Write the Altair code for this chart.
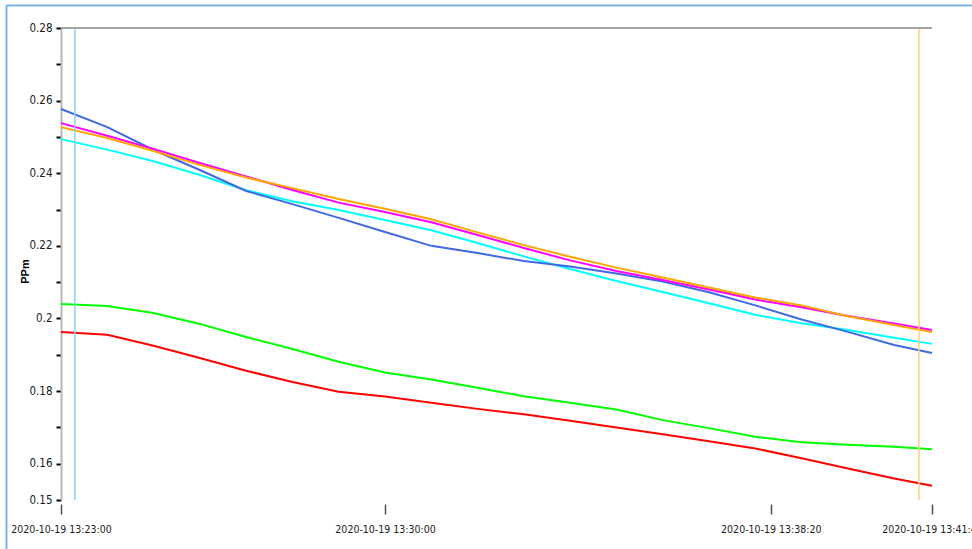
import altair as alt
import pandas as pd

# Sample times, in seconds after 2020-10-19 13:23:00 (UTC)
start = pd.Timestamp("2020-10-19 13:23:00")
offset_s = [0, 60, 120, 180, 240, 300, 360, 420, 480, 540, 600, 660, 720,
            780, 840, 900, 960, 1020, 1080, 1129]

# Concentration readings (ppm) for each channel
royal_blue = [0.2577, 0.2527, 0.2464, 0.2409, 0.2351, 0.2315, 0.2277, 0.2238, 0.2200, 0.2180,
              0.2158, 0.2143, 0.2124, 0.2102, 0.2072, 0.2036, 0.1997, 0.1963, 0.1927, 0.1905]
magenta = [0.2538, 0.2503, 0.2467, 0.2428, 0.2391, 0.2354, 0.2319, 0.2293, 0.2265, 0.2230,
           0.2194, 0.2160, 0.2131, 0.2106, 0.2080, 0.2052, 0.2031, 0.2007, 0.1986, 0.1968]
orange = [0.2527, 0.2497, 0.2461, 0.2423, 0.2388, 0.2359, 0.2329, 0.2302, 0.2273, 0.2237,
          0.2202, 0.2170, 0.2140, 0.2113, 0.2085, 0.2058, 0.2036, 0.2006, 0.1982, 0.1963]
cyan = [0.2494, 0.2465, 0.2433, 0.2395, 0.2353, 0.2323, 0.2299, 0.2271, 0.2243, 0.2208,
        0.2171, 0.2136, 0.2103, 0.2073, 0.2042, 0.2010, 0.1987, 0.1968, 0.1947, 0.1930]
green = [0.2040, 0.2034, 0.2015, 0.1985, 0.1949, 0.1916, 0.1881, 0.1851, 0.1832, 0.1809,
         0.1786, 0.1768, 0.1749, 0.1720, 0.1698, 0.1674, 0.1659, 0.1652, 0.1647, 0.1640]
red = [0.1963, 0.1955, 0.1925, 0.1891, 0.1856, 0.1825, 0.1798, 0.1785, 0.1768, 0.1751,
       0.1736, 0.1718, 0.1700, 0.1681, 0.1662, 0.1642, 0.1615, 0.1587, 0.1559, 0.1539]

series_names = ["green", "red", "cyan", "royal_blue", "magenta", "orange"]
series_colors = ["#00FF00", "#FF0000", "#00FFFF", "#4169E1", "#FF00FF", "#FFA500"]
series_values = [green, red, cyan, royal_blue, magenta, orange]

# Cursor markers
cursor_times = ["2020-10-19T13:23:18Z", "2020-10-19T13:41:32Z"]
cursor_colors = ["#86D3F3", "#FFCE80"]

# Axis ticks: a tick every 0.01 ppm, labels on the even hundredths and on 0.15
y_ticks = [0.15, 0.16, 0.17, 0.18, 0.19, 0.20, 0.21, 0.22, 0.23, 0.24, 0.25, 0.26, 0.27, 0.28]
x_tick_times = [(13, 23, 0), (13, 30, 0), (13, 38, 20), (13, 41, 49)]

stamps = [(start + pd.Timedelta(seconds=s)).strftime("%Y-%m-%dT%H:%M:%SZ") for s in offset_s]
rows = []
for name, vals in zip(series_names, series_values):
    for t, v in zip(stamps, vals):
        rows.append({"time": t, "value": v, "series": name})
df = pd.DataFrame(rows)

cursor_df = pd.DataFrame({"time": cursor_times, "color": cursor_colors})
top_df = pd.DataFrame({"value": [max(y_ticks)]})

FONT = "DejaVu Sans Condensed, DejaVu Sans, sans-serif"

def dt(h, m, s):
    return alt.DateTime(year=2020, month=10, date=19, hours=h, minutes=m, seconds=s, utc=True)

x_scale = alt.Scale(type="utc", domain=[dt(13, 23, 0), dt(13, 41, 49)], nice=False)
y_scale = alt.Scale(domain=[min(y_ticks), max(y_ticks)], nice=False, zero=False)

x_axis = alt.Axis(
    values=[dt(*t) for t in x_tick_times],
    labelExpr="utcFormat(datum.value, '%Y-%m-%d %H:%M:%S')",
    title=None,
    grid=False,
    domain=False,
    offset=4,
    tickSize=10,
    tickWidth=1.5,
    tickColor="#505050",
    labelFont=FONT,
    labelFontSize=10.5,
    labelColor="#1a1a1a",
    labelPadding=10,
    labelFlush=False,
    labelOverlap=False,
    labelBound=False,
)

y_axis = alt.Axis(
    values=y_ticks,
    labelExpr="(round(datum.value * 100) % 2 == 0 || round(datum.value * 100) == 15)"
              " ? format(datum.value, '.2~f') : ''",
    title="PPm",
    titleFont="Liberation Sans, Arial, sans-serif",
    titleFontSize=11,
    titleFontWeight="bold",
    titleColor="#000000",
    titleAngle=270,
    titleX=-31,
    titleY=243,
    titleAlign="center",
    titleBaseline="bottom",
    grid=False,
    domainColor="#B8B8B8",
    domainWidth=2,
    tickColor="#000000",
    tickWidth=2,
    tickSize=5,
    labelFont=FONT,
    labelFontSize=11.5,
    labelColor="#1a1a1a",
    labelPadding=4,
    labelOverlap=False,
    labelBound=False,
)

x_enc = alt.X("time:T", scale=x_scale, axis=x_axis, title=None)
y_enc = alt.Y("value:Q", scale=y_scale, axis=y_axis, title="PPm")

lines = alt.Chart(df).mark_line(strokeWidth=2, interpolate="linear").encode(
    x=x_enc,
    y=y_enc,
    color=alt.Color("series:N", scale=alt.Scale(domain=series_names, range=series_colors), legend=None),
    order=alt.Order("time:T"),
)

cursors = alt.Chart(cursor_df).mark_rule(strokeWidth=1.5).encode(
    x=x_enc,
    color=alt.Color("color:N", scale=None),
)

top_border = alt.Chart(top_df).mark_rule(color="#A4A4A4", strokeWidth=2).encode(
    y=y_enc,
)

# Window frame along the left and top edges
frame_left = alt.Chart(top_df).mark_rule(color="#80B4E8", strokeWidth=2).encode(
    x=alt.value(-54.5), y=alt.value(-22.5), y2=alt.value(521)
)
frame_top = alt.Chart(top_df).mark_rule(color="#80B4E8", strokeWidth=2).encode(
    x=alt.value(-55), x2=alt.value(911), y=alt.value(-22.5)
)

chart = alt.layer(lines, cursors, top_border, frame_left, frame_top).properties(
    width=871,
    height=472,
    autosize=alt.AutoSizeParams(type="none"),
    padding={"left": 61, "top": 28, "right": 40, "bottom": 49},
    background="#FFFFFF",
).configure_view(strokeWidth=0)

chart.save("out.html", embed_options={"renderer": "svg", "actions": False})
